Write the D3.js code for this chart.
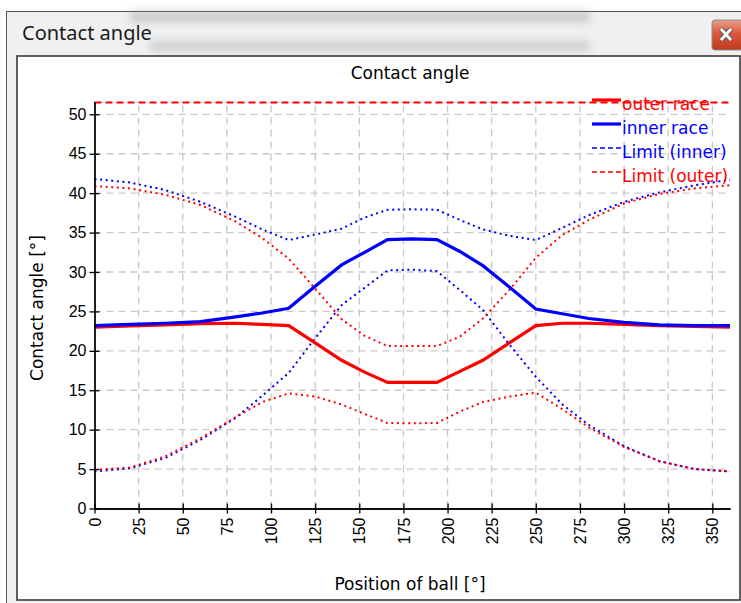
<!DOCTYPE html>
<html>
<head>
<meta charset="utf-8">
<style>
    body { margin: 0; background: #ffffff; }
    svg { display: block; font-family: 'DejaVu Sans', sans-serif; }
    .grid line { stroke: #c8c8c8; stroke-width: 1.3; stroke-dasharray: 7,5; }
    .axis path, .axis line { stroke: #000; stroke-width: 1.3; }
    .axis text { font-size: 16px; fill: #000; }
</style>
</head>
<body>
<svg width="741" height="603"></svg>

<script src="https://d3js.org/d3.v7.min.js"></script>
<script>
    // ball positions [deg]
    const positions = [0, 20, 40, 60, 80, 95, 110, 125, 140, 153, 166, 180, 194, 207, 220, 235, 250, 265, 280, 300, 320, 340, 360];

    // contact angles [deg]
    const outerRace  = [23.0, 23.15, 23.3, 23.45, 23.5, 23.35, 23.2, 21.0, 18.8, 17.3, 16.0, 16.0, 16.0, 17.4, 18.8, 21.0, 23.2, 23.5, 23.5, 23.35, 23.2, 23.1, 23.0];
    const innerRace  = [23.2, 23.35, 23.5, 23.7, 24.3, 24.8, 25.4, 28.2, 30.9, 32.5, 34.1, 34.2, 34.1, 32.6, 30.8, 28.1, 25.3, 24.7, 24.1, 23.6, 23.3, 23.2, 23.2];
    const innerLimitHigh = [41.8, 41.35, 40.4, 38.9, 37.0, 35.4, 34.05, 34.75, 35.5, 36.9, 37.9, 37.95, 37.9, 36.6, 35.4, 34.6, 34.05, 35.6, 37.2, 38.9, 40.1, 41.0, 41.7];
    const innerLimitLow  = [4.7, 5.1, 6.4, 8.7, 11.5, 14.3, 17.2, 21.6, 25.8, 28.0, 30.2, 30.3, 30.1, 27.7, 25.2, 20.8, 16.7, 13.2, 10.6, 7.9, 6.0, 5.0, 4.7];
    const outerLimitHigh = [40.9, 40.6, 39.8, 38.5, 36.4, 34.3, 31.7, 27.9, 24.0, 21.9, 20.6, 20.6, 20.6, 21.8, 24.1, 27.7, 31.8, 34.7, 36.6, 38.7, 39.9, 40.6, 41.0];
    const outerLimitLow  = [4.9, 5.2, 6.6, 8.9, 11.6, 13.5, 14.6, 14.2, 13.2, 12.0, 10.85, 10.8, 10.85, 12.3, 13.5, 14.2, 14.7, 12.6, 10.3, 7.8, 6.0, 5.0, 4.7];
    const maxAngle = 51.5;

    const xTicks = d3.range(0, 351, 25);
    const yTicks = d3.range(0, 51, 5);
    const legendNames = ["outer race", "inner race", "Limit (inner)", "Limit (outer)"];

    let svg = d3.select("svg");

    // ---- window chrome ----
    let defs = svg.append("defs");
    defs.append("filter").attr("id", "blur")
        .attr("x", "-20%").attr("y", "-200%").attr("width", "140%").attr("height", "500%")
        .append("feGaussianBlur").attr("stdDeviation", 4.5);
    let btn = defs.append("linearGradient").attr("id", "btn")
        .attr("x1", 0).attr("y1", 0).attr("x2", 0).attr("y2", 1);
    btn.append("stop").attr("offset", 0).attr("stop-color", "#e9a08c");
    btn.append("stop").attr("offset", 0.45).attr("stop-color", "#d9583c");
    btn.append("stop").attr("offset", 1).attr("stop-color", "#c23a1c");

    svg.append("rect")
        .attr("x", 6.5).attr("y", 11.5).attr("width", 760).attr("height", 620)
        .attr("fill", "#f0f0f0").attr("stroke", "#555").attr("stroke-width", 1);

    // blurred background seen through the glass title bar
    [[130, 11, 460, 11, 0.4], [150, 41, 440, 10, 0.35]].forEach(function (r) {
        svg.append("rect")
            .attr("x", r[0]).attr("y", r[1]).attr("width", r[2]).attr("height", r[3])
            .attr("fill", "#8f8f8f").attr("opacity", r[4]).attr("filter", "url(#blur)");
    });

    svg.append("text")
        .attr("x", 22).attr("y", 40)
        .style("font-family", "'Noto Sans', sans-serif")
        .style("font-size", "20px")
        .attr("fill", "#1a1a1a")
        .text("Contact angle");

    svg.append("rect")
        .attr("x", 712).attr("y", 20).attr("width", 34).attr("height", 30).attr("rx", 3)
        .attr("fill", "url(#btn)").attr("stroke", "#8a8a8a");
    svg.append("path")
        .attr("d", "M721,29 L731,40 M731,29 L721,40")
        .attr("stroke", "#555").attr("stroke-width", 5);
    svg.append("path")
        .attr("d", "M721,29 L731,40 M731,29 L721,40")
        .attr("stroke", "#fff").attr("stroke-width", 3);

    svg.append("rect")
        .attr("x", 17).attr("y", 56).attr("width", 723).attr("height", 544)
        .attr("fill", "#fff").attr("stroke", "#3a3a3a").attr("stroke-width", 1.6);

    // ---- chart ----
    var xScale = d3.scaleLinear().domain([0, 360]).range([94.5, 730]);
    var yScale = d3.scaleLinear().domain([0, 51.6]).range([508.5, 101.7]);

    let grid = svg.append("g").attr("class", "grid");
    grid.selectAll(".gy")
        .data(yTicks.filter(d => d > 0))
        .enter().append("line")
        .attr("x1", xScale(0)).attr("x2", xScale(360))
        .attr("y1", d => yScale(d)).attr("y2", d => yScale(d));
    grid.selectAll(".gx")
        .data(xTicks.filter(d => d > 0))
        .enter().append("line")
        .attr("x1", d => xScale(d)).attr("x2", d => xScale(d))
        .attr("y1", yScale(0)).attr("y2", yScale(51.6));

    let line = d3.line()
        .x((d, i) => xScale(positions[i]))
        .y(d => yScale(d));

    // limits (dotted)
    [[innerLimitHigh, "#0000ff"], [innerLimitLow, "#0000ff"],
     [outerLimitHigh, "#ff0000"], [outerLimitLow, "#ff0000"]].forEach(function (s) {
        svg.append("path")
            .datum(s[0])
            .attr("d", line)
            .attr("fill", "none")
            .attr("stroke", s[1])
            .attr("stroke-width", 2)
            .attr("stroke-dasharray", "2,3.6");
    });

    // max angle (dashed)
    svg.append("line")
        .attr("x1", xScale(0)).attr("x2", xScale(360))
        .attr("y1", yScale(maxAngle)).attr("y2", yScale(maxAngle))
        .attr("stroke", "#ff0000").attr("stroke-width", 2)
        .attr("stroke-dasharray", "7,4");

    // races (thick)
    [[outerRace, "#ff0000"], [innerRace, "#0000ff"]].forEach(function (s) {
        svg.append("path")
            .datum(s[0])
            .attr("d", line)
            .attr("fill", "none")
            .attr("stroke", s[1])
            .attr("stroke-width", 3.2);
    });

    // axes
    svg.append("g").attr("class", "axis")
        .attr("transform", `translate(${xScale(0)},0)`)
        .call(d3.axisLeft(yScale).tickValues(yTicks).tickSize(5).tickSizeOuter(0).tickPadding(3));
    svg.append("g").attr("class", "axis")
        .attr("transform", `translate(${xScale(0)},0)`)
        .call(d3.axisRight(yScale).tickValues(yTicks).tickSize(5).tickSizeOuter(0).tickFormat(""));

    let xAxis = svg.append("g").attr("class", "axis")
        .attr("transform", `translate(0,${yScale(0)})`)
        .call(d3.axisBottom(xScale).tickValues(xTicks).tickSize(5).tickSizeOuter(0));
    xAxis.selectAll("text")
        .attr("transform", "rotate(-90)")
        .attr("text-anchor", "end")
        .attr("x", -9).attr("y", 0).attr("dy", "0.35em");
    svg.append("g").attr("class", "axis")
        .attr("transform", `translate(0,${yScale(0)})`)
        .call(d3.axisTop(xScale).tickValues(xTicks).tickSize(5).tickSizeOuter(0).tickFormat(""));

    // titles
    svg.append("text")
        .attr("x", 410).attr("y", 79)
        .attr("text-anchor", "middle")
        .style("font-size", "17px")
        .text("Contact angle");
    svg.append("text")
        .attr("x", 410).attr("y", 590)
        .attr("text-anchor", "middle")
        .style("font-size", "17px")
        .text("Position of ball [°]");
    svg.append("text")
        .attr("transform", "translate(43,308) rotate(-90)")
        .attr("text-anchor", "middle")
        .style("font-size", "17px")
        .text("Contact angle [°]");

    // legend
    let legendStyle = [
        { color: "#ff0000", width: 3.2, dash: null },
        { color: "#0000ff", width: 3.2, dash: null },
        { color: "#0000ff", width: 1.5, dash: "5,3" },
        { color: "#ff0000", width: 1.5, dash: "5,3" }
    ];
    let legend = svg.append("g").attr("transform", "translate(592,100)");
    legendNames.forEach(function (name, i) {
        let row = legend.append("g").attr("transform", `translate(0,${i * 24})`);
        row.append("line")
            .attr("x1", 0).attr("x2", 29).attr("y1", 0).attr("y2", 0)
            .attr("stroke", legendStyle[i].color)
            .attr("stroke-width", legendStyle[i].width)
            .attr("stroke-dasharray", legendStyle[i].dash);
        row.append("text")
            .attr("x", 30).attr("y", 10)
            .style("font-size", "17px")
            .attr("fill", legendStyle[i].color)
            .text(name);
    });
</script>
</body>
</html>
